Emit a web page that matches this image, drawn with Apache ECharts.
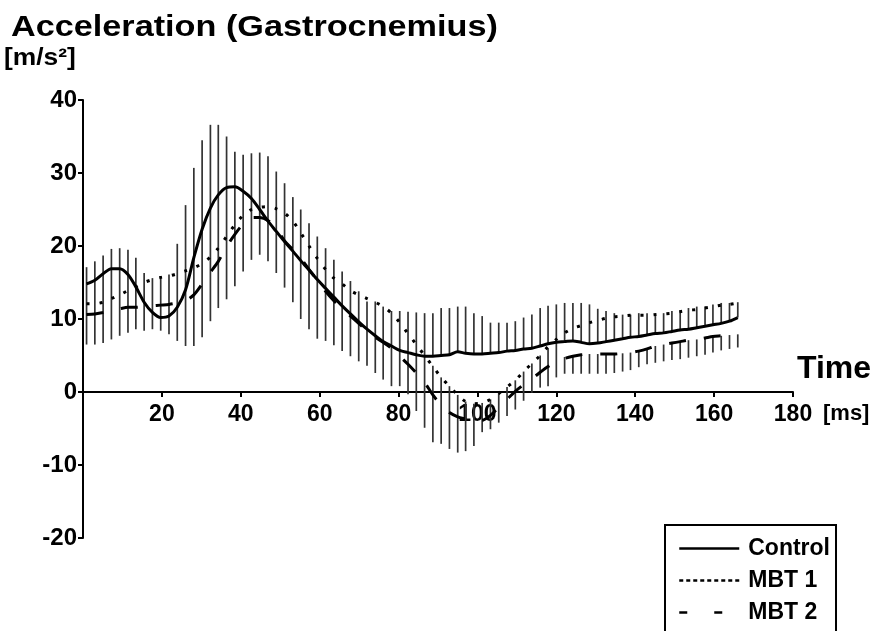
<!DOCTYPE html>
<html>
<head>
<meta charset="utf-8">
<script src="https://cdn.jsdelivr.net/npm/echarts@6/dist/echarts.min.js"></script>
<style>
  html, body { margin: 0; padding: 0; background: #fff; }
  #chart { width: 876px; height: 631px; }
</style>
</head>
<body>
<div id="chart"></div>
<script>
// ---- data ----
const time = [
  0.9, 3.0, 5.1, 7.2, 9.3, 11.4, 13.4, 15.5, 17.6, 19.7,
  21.8, 23.9, 26.0, 28.1, 30.2, 32.3, 34.3, 36.4, 38.5, 40.6,
  42.7, 44.8, 46.9, 49.0, 51.1, 53.2, 55.2, 57.3, 59.4, 61.5,
  63.6, 65.7, 67.8, 69.9, 72.0, 74.1, 76.1, 78.2, 80.3, 82.4,
  84.5, 86.6, 88.7, 90.8, 92.9, 95.0, 97.0, 99.1, 101.2, 103.3,
  105.4, 107.5, 109.6, 111.7, 113.8, 115.9, 117.9, 120.0, 122.1, 124.2,
  126.3, 128.4, 130.5, 132.6, 134.7, 136.8, 138.8, 140.9, 143.0, 145.1,
  147.2, 149.3, 151.4, 153.5, 155.6, 157.7, 159.7, 161.8, 163.9, 166.0
];
const control = [
  14.8, 15.3, 16.2, 16.9, 16.9, 16.1, 14.4, 12.3, 10.9, 10.2,
  10.4, 11.6, 14.0, 18.4, 22.3, 25.2, 27.0, 28.0, 28.1, 27.5,
  26.5, 25.0, 23.4, 22.0, 20.6, 19.3, 18.0, 16.7, 15.4, 14.2,
  13.0, 11.8, 10.7, 9.6, 8.6, 7.7, 6.9, 6.3, 5.7, 5.4,
  5.1, 4.9, 4.9, 5.0, 5.1, 5.5, 5.3, 5.2, 5.2, 5.3,
  5.4, 5.6, 5.7, 5.9, 6.0, 6.3, 6.6, 6.8, 6.9, 7.0,
  6.8, 6.6, 6.7, 6.9, 7.1, 7.3, 7.5, 7.6, 7.8, 8.0,
  8.1, 8.3, 8.5, 8.6, 8.8, 9.0, 9.2, 9.4, 9.7, 10.2
];
const mbt1 = [
  12.1, 12.1, 12.3, 12.8, 13.3, 13.9, 14.4, 15.0, 15.4, 15.7,
  15.9, 16.2, 16.6, 17.0, 17.6, 18.5, 19.7, 21.3, 22.9, 24.2,
  25.0, 25.3, 25.4, 25.1, 24.5, 23.4, 21.8, 20.0, 18.3, 16.8,
  15.6, 14.8, 13.9, 13.3, 12.8, 12.3, 11.7, 10.8, 9.5, 8.0,
  6.5, 5.0, 3.5, 2.0, 0.8, -0.4, -1.3, -1.6, -1.5, -1.0,
  -0.2, 0.7, 1.6, 2.8, 3.9, 5.0, 6.2, 7.2, 8.1, 8.7,
  9.1, 9.5, 9.8, 10.1, 10.3, 10.4, 10.5, 10.5, 10.5, 10.6,
  10.7, 10.8, 11.0, 11.2, 11.3, 11.5, 11.7, 11.9, 12.0, 12.2
];
const mbt2 = [
  10.6, 10.7, 10.9, 11.2, 11.4, 11.6, 11.6, 11.7, 11.8, 11.9,
  12.0, 12.2, 12.5, 13.3, 14.8, 16.4, 17.9, 19.9, 21.6, 23.0,
  23.9, 23.9, 23.5, 22.4, 20.7, 19.5, 18.3, 16.8, 15.3, 13.8,
  12.5, 11.4, 10.4, 9.4, 8.4, 7.5, 6.8, 6.0, 4.9, 3.8,
  2.6, 1.3, -0.4, -1.8, -2.8, -3.4, -3.7, -4.0, -3.9, -3.2,
  -2.1, -1.0, 0.1, 1.0, 1.8, 2.7, 3.5, 4.1, 4.6, 4.9,
  5.1, 5.2, 5.2, 5.2, 5.2, 5.3, 5.4, 5.6, 5.9, 6.3,
  6.5, 6.7, 6.9, 7.1, 7.2, 7.4, 7.6, 7.7, 7.8, 7.9
];
// SD bars: overall extent at each time point
const barHigh = [
  17.1, 17.9, 18.7, 19.6, 19.7, 19.5, 18.4, 16.3, 15.6, 15.6,
  16.1, 20.3, 25.6, 30.7, 34.5, 36.6, 36.6, 35.0, 32.9, 32.5,
  32.7, 32.8, 32.3, 30.2, 28.6, 26.7, 25.0, 23.1, 21.3, 19.7,
  18.1, 16.5, 15.2, 13.8, 12.4, 12.4, 11.7, 11.1, 11.1, 11.0,
  10.9, 10.8, 10.8, 11.5, 11.5, 11.7, 11.7, 10.8, 10.4, 9.5,
  9.5, 9.5, 9.7, 10.2, 10.6, 11.5, 11.8, 12.0, 12.2, 12.2,
  12.2, 12.0, 11.4, 11.1, 10.8, 10.6, 10.6, 10.8, 10.8, 10.8,
  10.8, 11.1, 11.2, 11.5, 11.7, 11.7, 12.0, 12.2, 12.2, 12.3
];
const barLow = [
  6.5, 6.5, 6.7, 7.2, 7.7, 8.1, 8.6, 8.4, 8.6, 8.4,
  7.9, 7.0, 6.3, 6.3, 7.5, 9.7, 11.5, 12.7, 14.5, 16.5,
  18.1, 18.8, 17.9, 16.3, 14.3, 12.3, 10.0, 8.6, 7.3, 7.0,
  6.4, 5.6, 4.9, 4.2, 3.6, 2.6, 1.7, 0.8, 0.8, -0.3,
  -2.6, -4.9, -6.9, -7.1, -7.8, -8.3, -8.1, -7.4, -5.5, -5.1,
  -4.2, -3.3, -2.4, -1.2, -0.1, 0.6, 0.8, 2.0, 2.5, 2.5,
  2.5, 2.5, 2.5, 2.5, 2.6, 2.8, 3.0, 3.4, 3.8, 4.0,
  4.2, 4.4, 4.5, 4.7, 4.9, 5.1, 5.4, 5.7, 5.9, 6.1
];
// white gap inside the bars (no bar between gapLow and gapHigh), null = continuous
const gapLow = [
  null, null, null, null, null, null, null, null, null, null,
  null, null, null, null, null, null, null, null, null, null,
  null, null, null, null, null, null, null, null, null, null,
  null, null, null, null, null, null, null, null, null, null,
  null, null, 3.6, 2.0, 0.8, -0.4, -1.3, -1.6, -1.5, -1.0,
  -0.2, 0.7, 1.6, 2.8, 3.9, 5.0, 6.0, null, 4.8, 4.9,
  5.1, 5.2, 5.2, 5.2, 5.2, 5.3, 5.4, 5.6, 5.9, 6.3,
  6.5, 6.7, 6.9, 7.1, 7.2, 7.4, 7.6, 7.7, 7.8, 7.9
];
const gapHigh = [
  null, null, null, null, null, null, null, null, null, null,
  null, null, null, null, null, null, null, null, null, null,
  null, null, null, null, null, null, null, null, null, null,
  null, null, null, null, null, null, null, null, null, null,
  null, null, 4.9, 5.0, 5.1, 5.5, 5.3, 5.2, 5.2, 5.3,
  5.4, 5.6, 5.7, 5.9, 6.0, 6.3, 6.6, null, 6.9, 7.0,
  6.8, 6.6, 6.7, 6.9, 7.1, 7.3, 7.5, 7.6, 7.8, 8.0,
  8.1, 8.3, 8.5, 8.6, 8.8, 9.0, 9.2, 9.4, 9.7, 10.2
];
const xTicks = [0, 20, 40, 60, 80, 100, 120, 140, 160, 180];
const yTicks = [-20, -10, 0, 10, 20, 30, 40];
const seriesNames = ['Control', 'MBT 1', 'MBT 2'];

// ---- chart ----
const FONT = "'Liberation Sans', Arial, Helvetica, sans-serif";
const chart = echarts.init(document.getElementById('chart'), null, { renderer: 'canvas' });

const pairs = arr => time.map((t, i) => [t, arr[i]]);

const GRID_TOP = 100, GRID_BOTTOM = 93, CH = 631;
const plotH = CH - GRID_TOP - GRID_BOTTOM;
// distance from the bottom of the grid up to the zero line
const zeroOffset = plotH * (0 - yTicks[0]) / (yTicks[yTicks.length - 1] - yTicks[0]);

const option = {
  animation: false,
  backgroundColor: '#fff',
  grid: { left: 83, right: 83, top: GRID_TOP, bottom: GRID_BOTTOM, containLabel: false },
  xAxis: {
    type: 'value',
    position: 'bottom',
    offset: -zeroOffset,
    min: xTicks[0], max: xTicks[xTicks.length - 1], interval: xTicks[1] - xTicks[0],
    axisLine: { onZero: false, lineStyle: { color: '#000', width: 2 } },
    axisTick: { show: true, length: 5, lineStyle: { color: '#000', width: 2 } },
    axisLabel: {
      margin: 11, color: '#000', fontSize: 23, fontWeight: 'bold', fontFamily: FONT,
      showMaxLabel: true, hideOverlap: false,
      formatter: v => (v === 0 ? '' : String(v))
    },
    splitLine: { show: false }
  },
  yAxis: {
    type: 'value',
    min: yTicks[0], max: yTicks[yTicks.length - 1], interval: yTicks[1] - yTicks[0],
    axisLine: { show: true, onZero: false, lineStyle: { color: '#000', width: 2 } },
    axisTick: { show: true, length: 5, lineStyle: { color: '#000', width: 2 } },
    axisLabel: { margin: 6, color: '#000', fontSize: 24, fontWeight: 'bold', fontFamily: FONT },
    splitLine: { show: false }
  },
  legend: {
    orient: 'vertical',
    left: 665, top: 525, height: 200,
    itemWidth: 60, itemHeight: 14, itemGap: 9,
    padding: [12, 6, 30, 13],
    borderColor: '#000', borderWidth: 2,
    backgroundColor: '#fff',
    selectedMode: false,
    itemStyle: { opacity: 0 },
    textStyle: { color: '#000', fontSize: 23, fontWeight: 'bold', fontFamily: FONT, padding: [0, 0, 0, 4] },
    data: [
      { name: seriesNames[0], lineStyle: { width: 2.5, type: 'solid', opacity: 1 } },
      { name: seriesNames[1], lineStyle: { width: 2.5, type: [4, 3], opacity: 1 } },
      { name: seriesNames[2], lineStyle: { width: 2.5, type: [8, 27], opacity: 1 } }
    ]
  },
  graphic: [
    { type: 'text', x: 11, y: 28, scaleX: 1.16,
      style: { text: 'Acceleration (Gastrocnemius)', font: 'bold 29.5px ' + FONT, fill: '#000', verticalAlign: 'middle' } },
    { type: 'text', x: 4, y: 58, scaleX: 1.1,
      style: { text: '[m/s²]', font: 'bold 24px ' + FONT, fill: '#000', verticalAlign: 'middle' } },
    { type: 'text', x: 797, y: 369,
      style: { text: 'Time', font: 'bold 32px ' + FONT, fill: '#000', verticalAlign: 'middle' } },
    { type: 'text', x: 823, y: 414,
      style: { text: '[ms]', font: 'bold 22px ' + FONT, fill: '#000', verticalAlign: 'middle' } }
  ],
  series: [
    {
      type: 'custom',
      name: 'SD',
      z: 1,
      silent: true,
      data: time.map((t, i) => [t, barLow[i], barHigh[i]]),
      encode: { x: 0, y: [1, 2] },
      renderItem: function (params, api) {
        const i = params.dataIndex;
        const x = api.value(0), lo = api.value(1), hi = api.value(2);
        const gl = gapLow[i], gh = gapHigh[i];
        const segs = (gl != null && gh != null) ? [[lo, gl], [gh, hi]] : [[lo, hi]];
        const children = segs.map(s => {
          const p1 = api.coord([x, s[0]]);
          const p2 = api.coord([x, s[1]]);
          return {
            type: 'line',
            shape: { x1: p1[0], y1: p1[1], x2: p2[0], y2: p2[1] },
            style: { stroke: '#333', lineWidth: 1.7 }
          };
        });
        return { type: 'group', children };
      }
    },
    {
      type: 'line', name: seriesNames[0], z: 3,
      data: pairs(control), symbol: 'none', smooth: 0.3,
      lineStyle: { color: '#000', width: 3, type: 'solid' },
      itemStyle: { color: '#000' },
      emphasis: { disabled: true }
    },
    {
      type: 'line', name: seriesNames[1], z: 3,
      data: pairs(mbt1), symbol: 'none', smooth: 0.3,
      lineStyle: { color: '#000', width: 3, type: [3, 10], cap: 'butt' },
      itemStyle: { color: '#000' },
      emphasis: { disabled: true }
    },
    {
      type: 'line', name: seriesNames[2], z: 3,
      data: pairs(mbt2), symbol: 'none', smooth: 0.3,
      lineStyle: { color: '#000', width: 3, type: [17, 18], cap: 'butt' },
      itemStyle: { color: '#000' },
      emphasis: { disabled: true }
    }
  ]
};
chart.setOption(option);
</script>
</body>
</html>
